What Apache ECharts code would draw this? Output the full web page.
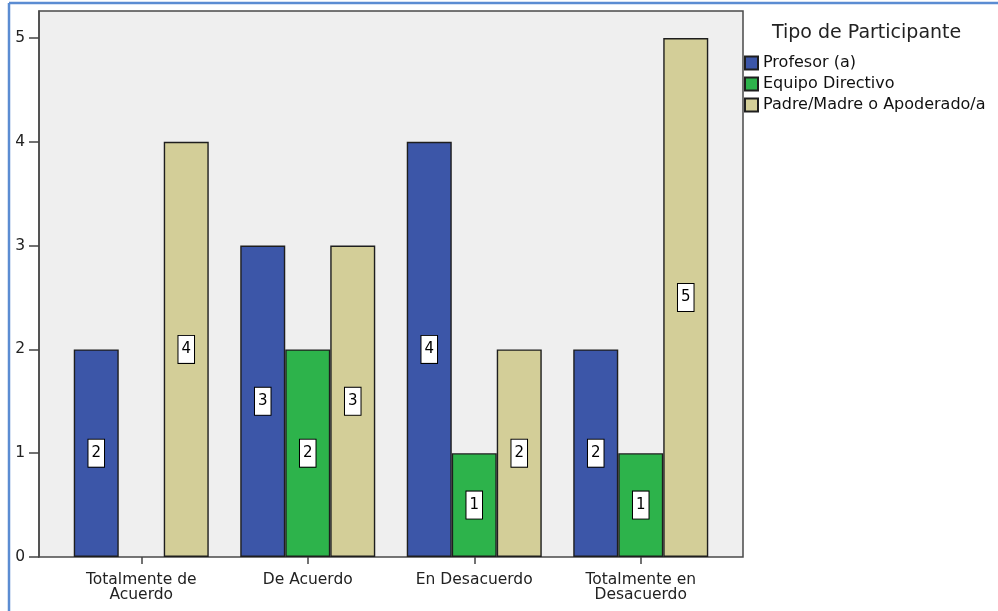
<!DOCTYPE html>
<html>
<head>
<meta charset="utf-8">
<script src="https://cdn.jsdelivr.net/npm/echarts@6/dist/echarts.min.js"></script>
<style>html,body{margin:0;padding:0;background:#fff}#c{width:998px;height:611px}</style>
</head>
<body>
<div id="c"></div>
<script>
const categories = ['Totalmente de\nAcuerdo', 'De Acuerdo', 'En Desacuerdo', 'Totalmente en\nDesacuerdo'];
const seriesNames = ['Profesor (a)', 'Equipo Directivo', 'Padre/Madre o Apoderado/a'];
const profesor = [2, 3, 4, 2];
const equipo = [null, 2, 1, 1];
const padre = [4, 3, 2, 5];
const yTicks = [0, 1, 2, 3, 4, 5];
const legendTitle = 'Tipo de Participante';

const colors = ['#3c56a8', '#2db34b', '#d3ce98'];
const FONT = 'DejaVu Sans';
const chart = echarts.init(document.getElementById('c'));

const label = {
  show: true, position: 'inside', color: '#000', fontFamily: FONT, fontSize: 15,
  lineHeight: 18, backgroundColor: '#fff', borderColor: '#000', borderWidth: 1, padding: [5, 3, 4, 3],
  formatter: p => p.value
};

function mk(name, data, i) {
  return {
    name, type: 'bar', data, xAxisIndex: 1, yAxisIndex: 1,
    barWidth: 45, barGap: '0%',
    itemStyle: { color: colors[i], borderColor: '#1e1e1e', borderWidth: 1.4 },
    label
  };
}

chart.setOption({
  animation: false,
  textStyle: { fontFamily: FONT },
  title: {
    text: legendTitle, left: 767, top: 19,
    textStyle: { fontSize: 19, fontWeight: 'normal', color: '#222', fontFamily: FONT }
  },
  legend: {
    orient: 'vertical', left: 739, top: 50, itemWidth: 13, itemHeight: 13, itemGap: 5,
    icon: 'rect', data: seriesNames,
    textStyle: { fontSize: 16, color: '#111', fontFamily: FONT, lineHeight: 16 }
  },
  grid: [
    { left: 39, top: 11, width: 704, height: 546, show: true, backgroundColor: '#efefef', borderColor: '#4a4a4a', borderWidth: 1.5 },
    { left: 58, top: 11, width: 666, height: 546 }
  ],
  xAxis: [
    { type: 'category', gridIndex: 0, data: categories, show: false },
    {
      type: 'category', gridIndex: 1, data: categories,
      axisLine: { show: false },
      axisTick: { show: true, alignWithLabel: true, length: 7, lineStyle: { color: '#444', width: 1.5 } },
      axisLabel: { fontSize: 15.5, color: '#222', fontFamily: FONT, margin: 15, lineHeight: 15, interval: 0 }
    }
  ],
  yAxis: [
    {
      type: 'value', gridIndex: 0, min: 0, max: 5.26, interval: 1,
      splitLine: { show: false },
      axisLine: { show: true, lineStyle: { color: '#4a4a4a', width: 1.5 } },
      axisTick: { show: true, length: 10, customValues: yTicks, lineStyle: { color: '#444', width: 1.5 } },
      axisLabel: { fontSize: 15.5, color: '#222', fontFamily: FONT, margin: 14, customValues: yTicks }
    },
    { type: 'value', gridIndex: 1, min: 0, max: 5.26, show: false, splitLine: { show: false } }
  ],
  graphic: [
    { type: 'line', shape: { x1: 9, y1: 3, x2: 998, y2: 3 }, style: { stroke: '#5b8cd2', lineWidth: 2.5 } },
    { type: 'line', shape: { x1: 9, y1: 3, x2: 9, y2: 611 }, style: { stroke: '#5b8cd2', lineWidth: 2.5 } }
  ],
  series: [mk(seriesNames[0], profesor, 0), mk(seriesNames[1], equipo, 1), mk(seriesNames[2], padre, 2)]
});
</script>
</body>
</html>
